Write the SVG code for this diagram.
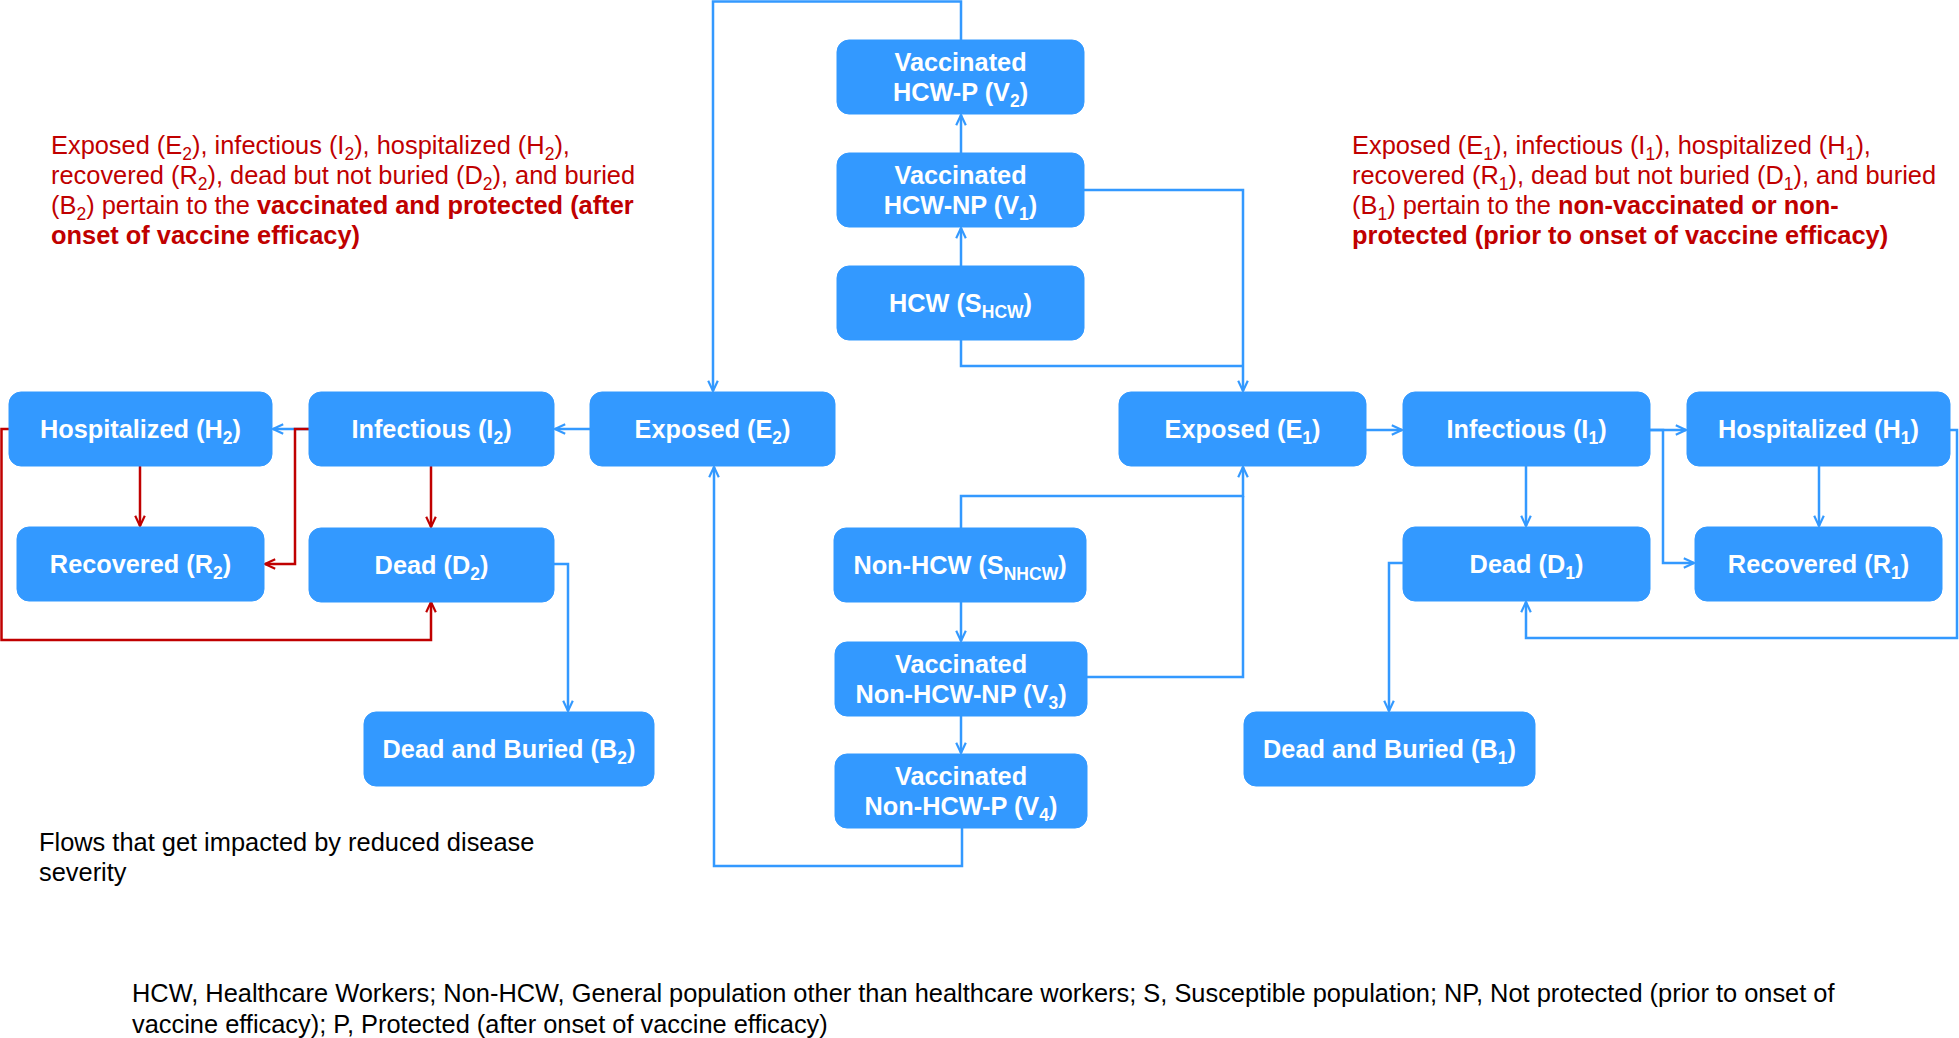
<svg xmlns="http://www.w3.org/2000/svg" width="1959" height="1038" viewBox="0 0 1959 1038">
<style>
.box{fill:#3399FF;stroke:#3399FF;stroke-width:1}
.lbl{font-family:"Liberation Sans",Arial,sans-serif;font-weight:bold;font-size:25.3px;fill:#fff;text-anchor:middle}
.sub{font-size:17.5px}
.c{fill:none;stroke:#3399FF;stroke-width:2.5}
.r{fill:none;stroke:#C00000;stroke-width:2.5}
.note{font-family:"Liberation Sans",Arial,sans-serif;font-size:25.4px;fill:#C00000}
.b{font-weight:bold}
.blk{font-family:"Liberation Sans",Arial,sans-serif;font-size:25.4px;fill:#000}
</style>
<defs>
<marker id="ab" viewBox="0 0 10 10" refX="9.5" refY="5" markerWidth="12" markerHeight="12" markerUnits="userSpaceOnUse" orient="auto">
<path d="M1,1 L9.5,5 L1,9" fill="none" stroke="#3399FF" stroke-width="1.8"/>
</marker>
<marker id="ar" viewBox="0 0 10 10" refX="9.5" refY="5" markerWidth="12" markerHeight="12" markerUnits="userSpaceOnUse" orient="auto">
<path d="M1,1 L9.5,5 L1,9" fill="none" stroke="#C00000" stroke-width="1.8"/>
</marker>
</defs>
<rect width="1959" height="1038" fill="#fff"/>

<g id="connectors">
<path class="c" d="M961,153 V115" marker-end="url(#ab)"/>
<path class="c" d="M961,266 V228" marker-end="url(#ab)"/>
<path class="c" d="M961,40 V1.5 H713 V391" marker-end="url(#ab)"/>
<path class="c" d="M1084,190 H1243 V391" marker-end="url(#ab)"/>
<path class="c" d="M961,340 V366 H1243"/>
<path class="c" d="M961,528 V496 H1243 V467" marker-end="url(#ab)"/>
<path class="c" d="M1087,677 H1243 V496"/>
<path class="c" d="M961,602 V641" marker-end="url(#ab)"/>
<path class="c" d="M961,716 V753" marker-end="url(#ab)"/>
<path class="c" d="M962,828 V866 H714 V467" marker-end="url(#ab)"/>
<path class="c" d="M590,429 H555" marker-end="url(#ab)"/>
<path class="c" d="M309,429 H273" marker-end="url(#ab)"/>
<path class="r" d="M309,429 H295 V564 H265" marker-end="url(#ar)"/>
<path class="r" d="M140,466 V526" marker-end="url(#ar)"/>
<path class="r" d="M431,466 V527" marker-end="url(#ar)"/>
<path class="r" d="M9,429 H1.5 V640 H431 V602" marker-end="url(#ar)"/>
<path class="c" d="M554,564 H568 V711" marker-end="url(#ab)"/>
<path class="c" d="M1366,430 H1402" marker-end="url(#ab)"/>
<path class="c" d="M1650,430 H1686" marker-end="url(#ab)"/>
<path class="c" d="M1650,430 H1663 V563 H1694" marker-end="url(#ab)"/>
<path class="c" d="M1526,466 V526" marker-end="url(#ab)"/>
<path class="c" d="M1819,466 V526" marker-end="url(#ab)"/>
<path class="c" d="M1950,430 H1957 V638 H1526 V602" marker-end="url(#ab)"/>
<path class="c" d="M1403,563 H1389 V711" marker-end="url(#ab)"/>
</g>

<g id="V2"><rect class="box" x="837" y="40" width="247" height="74" rx="12"/>
<text class="lbl" x="960.5" y="71">Vaccinated</text>
<text class="lbl" x="960.5" y="101">HCW-P (V<tspan class="sub" dy="6">2</tspan><tspan dy="-6">)</tspan></text></g>

<g id="V1"><rect class="box" x="837" y="153" width="247" height="74" rx="12"/>
<text class="lbl" x="960.5" y="184">Vaccinated</text>
<text class="lbl" x="960.5" y="214">HCW-NP (V<tspan class="sub" dy="6">1</tspan><tspan dy="-6">)</tspan></text></g>

<g id="SHCW"><rect class="box" x="837" y="266" width="247" height="74" rx="12"/>
<text class="lbl" x="960.5" y="312">HCW (S<tspan class="sub" dy="6">HCW</tspan><tspan dy="-6">)</tspan></text></g>

<g id="SNHCW"><rect class="box" x="834" y="528" width="252" height="74" rx="12"/>
<text class="lbl" x="960" y="574">Non-HCW (S<tspan class="sub" dy="6">NHCW</tspan><tspan dy="-6">)</tspan></text></g>

<g id="V3"><rect class="box" x="835" y="642" width="252" height="74" rx="12"/>
<text class="lbl" x="961" y="673">Vaccinated</text>
<text class="lbl" x="961" y="703">Non-HCW-NP (V<tspan class="sub" dy="6">3</tspan><tspan dy="-6">)</tspan></text></g>

<g id="V4"><rect class="box" x="835" y="754" width="252" height="74" rx="12"/>
<text class="lbl" x="961" y="785">Vaccinated</text>
<text class="lbl" x="961" y="815">Non-HCW-P (V<tspan class="sub" dy="6">4</tspan><tspan dy="-6">)</tspan></text></g>

<g id="E2"><rect class="box" x="590" y="392" width="245" height="74" rx="12"/>
<text class="lbl" x="712.5" y="438">Exposed (E<tspan class="sub" dy="6">2</tspan><tspan dy="-6">)</tspan></text></g>

<g id="I2"><rect class="box" x="309" y="392" width="245" height="74" rx="12"/>
<text class="lbl" x="431.5" y="438">Infectious (I<tspan class="sub" dy="6">2</tspan><tspan dy="-6">)</tspan></text></g>

<g id="H2"><rect class="box" x="9" y="392" width="263" height="74" rx="12"/>
<text class="lbl" x="140.5" y="438">Hospitalized (H<tspan class="sub" dy="6">2</tspan><tspan dy="-6">)</tspan></text></g>

<g id="R2"><rect class="box" x="17" y="527" width="247" height="74" rx="12"/>
<text class="lbl" x="140.5" y="573">Recovered (R<tspan class="sub" dy="6">2</tspan><tspan dy="-6">)</tspan></text></g>

<g id="D2"><rect class="box" x="309" y="528" width="245" height="74" rx="12"/>
<text class="lbl" x="431.5" y="574">Dead (D<tspan class="sub" dy="6">2</tspan><tspan dy="-6">)</tspan></text></g>

<g id="B2"><rect class="box" x="364" y="712" width="290" height="74" rx="12"/>
<text class="lbl" x="509" y="758">Dead and Buried (B<tspan class="sub" dy="6">2</tspan><tspan dy="-6">)</tspan></text></g>

<g id="E1"><rect class="box" x="1119" y="392" width="247" height="74" rx="12"/>
<text class="lbl" x="1242.5" y="438">Exposed (E<tspan class="sub" dy="6">1</tspan><tspan dy="-6">)</tspan></text></g>

<g id="I1"><rect class="box" x="1403" y="392" width="247" height="74" rx="12"/>
<text class="lbl" x="1526.5" y="438">Infectious (I<tspan class="sub" dy="6">1</tspan><tspan dy="-6">)</tspan></text></g>

<g id="H1"><rect class="box" x="1687" y="392" width="263" height="74" rx="12"/>
<text class="lbl" x="1818.5" y="438">Hospitalized (H<tspan class="sub" dy="6">1</tspan><tspan dy="-6">)</tspan></text></g>

<g id="D1"><rect class="box" x="1403" y="527" width="247" height="74" rx="12"/>
<text class="lbl" x="1526.5" y="573">Dead (D<tspan class="sub" dy="6">1</tspan><tspan dy="-6">)</tspan></text></g>

<g id="R1"><rect class="box" x="1695" y="527" width="247" height="74" rx="12"/>
<text class="lbl" x="1818.5" y="573">Recovered (R<tspan class="sub" dy="6">1</tspan><tspan dy="-6">)</tspan></text></g>

<g id="B1"><rect class="box" x="1244" y="712" width="291" height="74" rx="12"/>
<text class="lbl" x="1389.5" y="758">Dead and Buried (B<tspan class="sub" dy="6">1</tspan><tspan dy="-6">)</tspan></text></g>

<g id="note-left">
<text class="note" x="51" y="154">Exposed (E<tspan class="sub" dy="6">2</tspan><tspan dy="-6">), infectious (I</tspan><tspan class="sub" dy="6">2</tspan><tspan dy="-6">), hospitalized (H</tspan><tspan class="sub" dy="6">2</tspan><tspan dy="-6">),</tspan></text>
<text class="note" x="51" y="184">recovered (R<tspan class="sub" dy="6">2</tspan><tspan dy="-6">), dead but not buried (D</tspan><tspan class="sub" dy="6">2</tspan><tspan dy="-6">), and buried</tspan></text>
<text class="note" x="51" y="214">(B<tspan class="sub" dy="6">2</tspan><tspan dy="-6">) pertain to the </tspan><tspan class="b">vaccinated and protected (after</tspan></text>
<text class="note b" x="51" y="244">onset of vaccine efficacy)</text>
</g>

<g id="note-right">
<text class="note" x="1352" y="154">Exposed (E<tspan class="sub" dy="6">1</tspan><tspan dy="-6">), infectious (I</tspan><tspan class="sub" dy="6">1</tspan><tspan dy="-6">), hospitalized (H</tspan><tspan class="sub" dy="6">1</tspan><tspan dy="-6">),</tspan></text>
<text class="note" x="1352" y="184">recovered (R<tspan class="sub" dy="6">1</tspan><tspan dy="-6">), dead but not buried (D</tspan><tspan class="sub" dy="6">1</tspan><tspan dy="-6">), and buried</tspan></text>
<text class="note" x="1352" y="214">(B<tspan class="sub" dy="6">1</tspan><tspan dy="-6">) pertain to the </tspan><tspan class="b">non-vaccinated or non-</tspan></text>
<text class="note b" x="1352" y="244">protected (prior to onset of vaccine efficacy)</text>
</g>

<g id="flows-note">
<text class="blk" x="39" y="851">Flows that get impacted by reduced disease</text>
<text class="blk" x="39" y="881">severity</text>
</g>

<g id="footnote">
<text class="blk" x="132" y="1002">HCW, Healthcare Workers; Non-HCW, General population other than healthcare workers; S, Susceptible population; NP, Not protected (prior to onset of</text>
<text class="blk" x="132" y="1033">vaccine efficacy); P, Protected (after onset of vaccine efficacy)</text>
</g>
</svg>
